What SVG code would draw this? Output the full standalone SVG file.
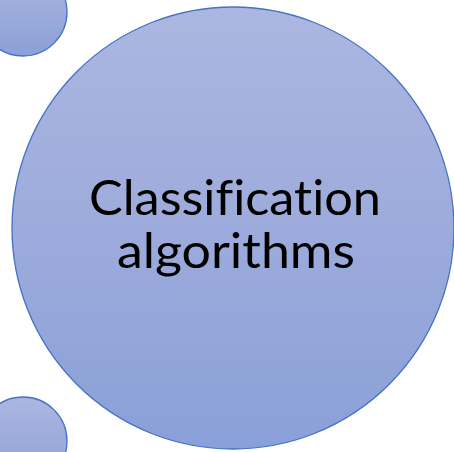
<svg xmlns="http://www.w3.org/2000/svg" width="454" height="452" viewBox="0 0 454 452">
  <defs>
    <linearGradient id="fillGrad" x1="0" y1="0" x2="0" y2="1">
      <stop offset="0" stop-color="#abb7e0"/>
      <stop offset="0.5" stop-color="#9dabdc"/>
      <stop offset="1" stop-color="#8aa0d8"/>
    </linearGradient>
    <style>
      .bubble { fill: url(#fillGrad); stroke: #4472c4; stroke-width: 1.3; }
      .label { font-family: Lato, "Open Sans", sans-serif; font-size: 48px; fill: #000; text-anchor: middle; font-variant-ligatures: none; font-feature-settings: "liga" 0, "dlig" 0; }
    </style>
  </defs>
  <g id="node-top-left">
    <circle class="bubble" cx="23" cy="12" r="44"/>
  </g>
  <g id="node-main">
    <circle class="bubble" cx="233" cy="228" r="221"/>
    <text class="label" x="235" y="215" textLength="292" lengthAdjust="spacingAndGlyphs">Classification</text>
    <text class="label" x="236" y="268" textLength="238" lengthAdjust="spacingAndGlyphs">algorithms</text>
  </g>
  <g id="node-bottom-left">
    <circle class="bubble" cx="23" cy="441" r="44"/>
  </g>
  <g id="connectors"/>
</svg>
